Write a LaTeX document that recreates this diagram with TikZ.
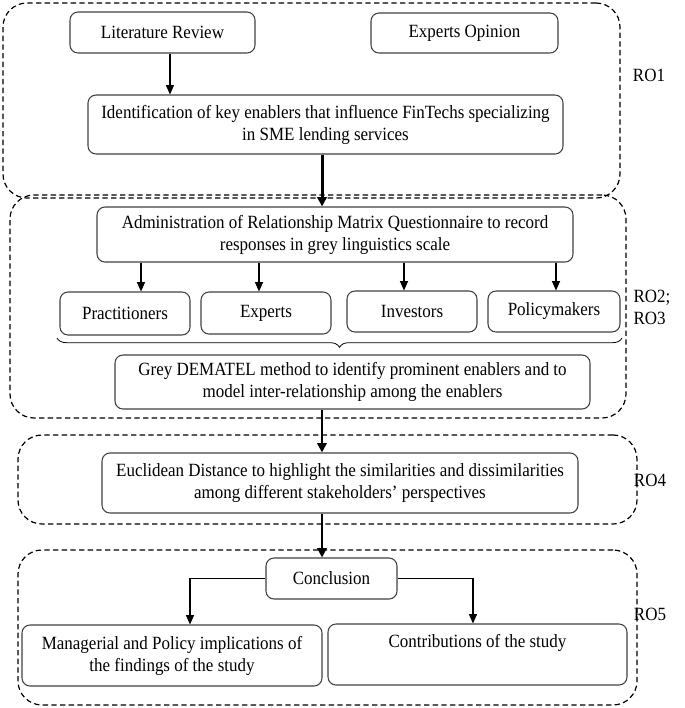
\documentclass[tikz,border=0pt]{standalone}
\usepackage{fontspec}
\setmainfont{Liberation Serif}[FakeStretch=0.91]
\usetikzlibrary{arrows.meta,fit,decorations.pathreplacing,calc}
\begin{document}
\begin{tikzpicture}[x=0.75pt,y=-0.75pt,
  box/.style={draw=black!75,line width=0.8pt,rounded corners=6pt,align=center,inner sep=2pt,font=\fontsize{14}{16.5}\selectfont},
  grp/.style={draw=black,line width=0.9pt,dash pattern=on 4pt off 2.5pt,rounded corners=18pt,inner sep=0pt},
  arr/.style={draw=black,line width=0.9pt,-{Triangle[length=7pt,width=6pt]}},
  bigarr/.style={draw=black,line width=2.2pt,-{Triangle[length=7pt,width=7pt]}},
  lbl/.style={font=\fontsize{14}{16.5}\selectfont,align=left,inner sep=0pt}]
\useasboundingbox (0,0) rectangle (685,708);
% groups
\node[grp,fit={(3,3) (620,198)}] (g1) {};
\node[grp,fit={(10,195) (626,418)}] (g2) {};
\node[grp,fit={(18,435) (637,524)}] (g4) {};
\node[grp,fit={(18,550) (637,705)}] (g5) {};
% RO1
\node[box,minimum width=138.75pt,minimum height=30.75pt] (lr) at (162.5,32.5) {Literature Review};
\node[box,minimum width=140.25pt,minimum height=30pt] (eo) at (464.5,33) {Experts Opinion};
\node[box,minimum width=356.25pt,minimum height=44.25pt] (id) at (325.5,124.5) {Identification of key enablers that influence FinTechs specializing\\in SME lending services};
% RO2
\node[box,minimum width=357pt,minimum height=41.25pt] (ad) at (335,234.5) {Administration of Relationship Matrix Questionnaire to record\\responses in grey linguistics scale};
\node[box,minimum width=97.5pt,minimum height=32.25pt] (pr) at (125,313.5) {Practitioners};
\node[box,minimum width=97.5pt,minimum height=31.5pt] (ex) at (266,313) {Experts};
\node[box,minimum width=97.5pt,minimum height=30.75pt] (in) at (412,311.5) {Investors};
\node[box,minimum width=99pt,minimum height=30.75pt] (po) at (554,311.5) {Policymakers};
\node[box,minimum width=356.25pt,minimum height=40.5pt] (gd) at (352.5,382) {Grey DEMATEL method to identify prominent enablers and to\\model inter-relationship among the enablers};
% RO4
\node[box,minimum width=357pt,minimum height=45pt] (eu) at (340,483) {Euclidean Distance to highlight the similarities and dissimilarities\\among different stakeholders’ perspectives};
% RO5
\node[box,minimum width=98.25pt,minimum height=30.75pt] (co) at (331.5,578.5) {Conclusion};
\node[box,minimum width=225pt,minimum height=45.75pt] (ma) at (172,655.5) {Managerial and Policy implications of\\the findings of the study};
\node[box,minimum width=224.25pt,minimum height=45.75pt] (ct) at (477.5,654.5) {Contributions of the study\\[4pt]\mbox{}};
% labels
\node[lbl] (r1) at (649,75) {RO1};
\node[lbl] (r2) at (652,307) {RO2;\\RO3};
\node[lbl] (r4) at (650,480) {RO4};
\node[lbl] (r5) at (650,614) {RO5};
% arrows
\draw[arr] ([xshift=5.6pt]lr.south) -- ([xshift=5.6pt]lr.south |- id.north);
\draw[bigarr] ([xshift=-2.6pt]id.south) -- ([xshift=-2.6pt]id.south |- ad.north);
\draw[arr] ([xshift=12pt]pr.north |- ad.south) -- ([xshift=12pt]pr.north);
\draw[arr] ([xshift=-5.25pt]ex.north |- ad.south) -- ([xshift=-5.25pt]ex.north);
\draw[arr] ([xshift=-6pt]in.north |- ad.south) -- ([xshift=-6pt]in.north);
\draw[arr] ([xshift=1.5pt]po.north |- ad.south) -- ([xshift=1.5pt]po.north);
\coordinate (bl) at (57,338);
\coordinate (br) at (622,338);
\draw[line width=0.6pt,decorate,decoration={brace,mirror,amplitude=7pt,raise=0pt}] (bl) -- (br);
\draw[bigarr] ([xshift=-22.9pt]gd.south) -- ([xshift=-22.9pt]gd.south |- eu.north);
\draw[bigarr] ([xshift=-13.5pt]eu.south) -- ([xshift=-13.5pt]eu.south |- co.north);
\draw[arr] (co.west) -| ([xshift=13.5pt]ma.north);
\draw[arr] (co.east) -| ([xshift=-3.4pt]ct.north);
\end{tikzpicture}
\end{document}
